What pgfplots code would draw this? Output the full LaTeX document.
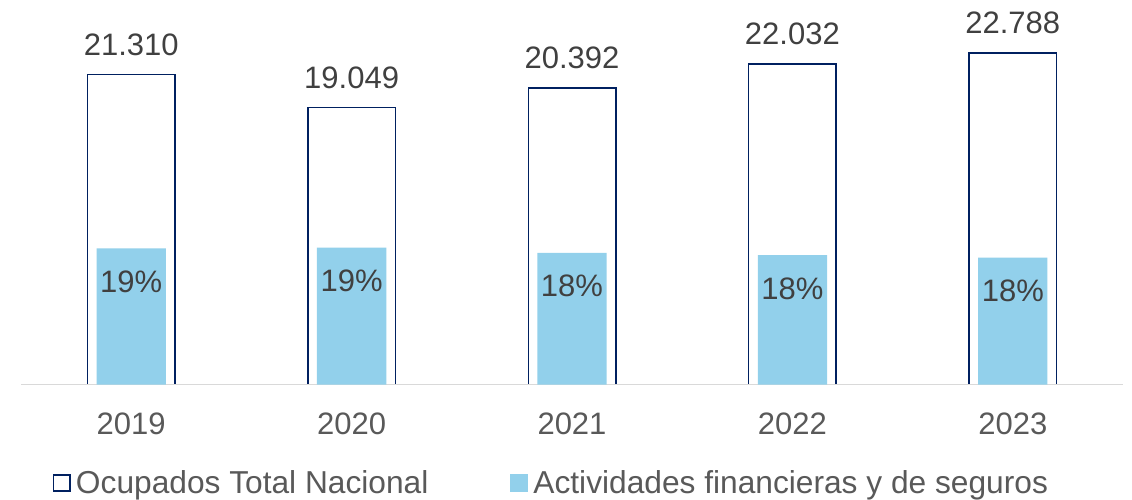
\documentclass[border=0pt]{standalone}
\usepackage{fontspec}
\setmainfont{Liberation Sans}
\usepackage{pgfplots}
\pgfplotsset{compat=1.18}
\definecolor{navy}{RGB}{0,32,96}
\definecolor{lblue}{RGB}{146,208,235}
\definecolor{tgray}{RGB}{89,89,89}
\definecolor{dgray}{RGB}{64,64,64}
\definecolor{lgray}{RGB}{217,217,217}
\newcommand{\bigf}{\fontsize{31}{37}\selectfont}
\begin{document}
\begin{tikzpicture}
\useasboundingbox (-21pt,-114.5pt) rectangle (1111pt,384.5pt);
\begin{axis}[
  scale only axis, width=1102pt, height=363.7pt,
  xmin=-0.5, xmax=4.5, ymin=0, ymax=25000, clip=false,
  axis lines=none,
  ybar, bar width=87.5pt,
  nodes near coords, point meta=explicit symbolic,
  every node near coord/.append style={font=\bigf, text=dgray, anchor=base, yshift=19pt, inner sep=0pt},
]
\addplot[draw=navy, fill=white, line width=1.5pt] coordinates {(0,21310)[21.310] (1,19049)[19.049] (2,20392)[20.392] (3,22032)[22.032] (4,22788)[22.788]};
\end{axis}
\begin{axis}[
  scale only axis, width=1102pt, height=363.7pt,
  xmin=-0.5, xmax=4.5, ymin=0, ymax=51, clip=false,
  axis x line*=bottom, hide y axis,
  x axis line style={-, draw=lgray, line width=1pt},
  xtick={0,1,2,3,4}, xticklabels={2019,2020,2021,2022,2023}, major tick length=0pt,
  xticklabel style={font=\bigf, text=tgray, anchor=base, yshift=-49.5pt, inner sep=0pt},
  ybar, bar width=69.3pt,
  nodes near coords, point meta=explicit symbolic,
  every node near coord/.append style={font=\bigf, text=dgray, anchor=base, yshift=-44pt, inner sep=0pt},
  legend columns=2, legend cell align=left,
  legend style={at={(0.02904,-0.2705)}, anchor=west, draw=none, fill=none, inner sep=0pt, outer sep=0pt,
    nodes={inner sep=0pt, text=tgray, font=\fontsize{31.7}{38}\selectfont},
    /tikz/every odd column/.append style={column sep=5.5pt},
    /tikz/every even column/.append style={column sep=82pt}},
]
\addlegendimage{legend image code/.code={\draw[draw=navy, fill=white, line width=1.5pt] (0pt,-8pt) rectangle (16pt,8pt);}}
\addlegendentry{Ocupados Total Nacional}
\addplot[draw=none, fill=lblue, legend image code/.code={\fill[lblue] (-0.75pt,-8.75pt) rectangle (16.75pt,8.75pt);}] coordinates {(0,19.1)[19\%] (1,19.2)[19\%] (2,18.45)[18\%] (3,18.15)[18\%] (4,17.8)[18\%]};
\addlegendentry{Actividades financieras y de seguros}
\end{axis}
\end{tikzpicture}
\end{document}
